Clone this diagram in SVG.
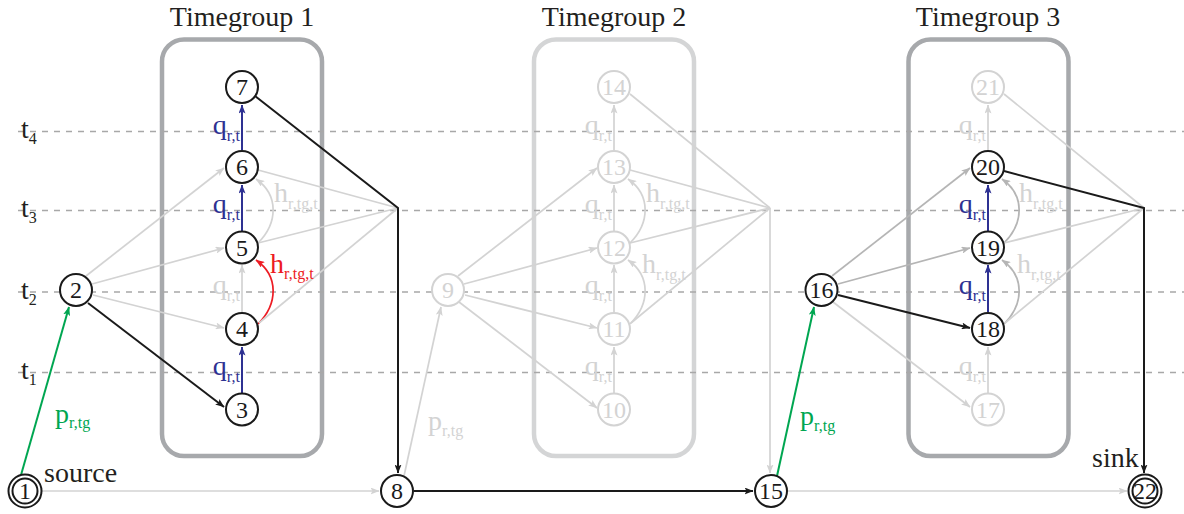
<svg xmlns="http://www.w3.org/2000/svg" width="1184" height="514" viewBox="0 0 1184 514">
<style>
text{font-family:"Liberation Serif","Times New Roman",serif;}
.title{font-size:28px;fill:#231f20;text-anchor:middle;}
.tl{font-size:28px;fill:#231f20;}
.dash{stroke:#a8a8a8;stroke-width:1.6;stroke-dasharray:6 6;fill:none;}
.box1{fill:none;stroke:#a7a9ac;stroke-width:4.5;}
.box2{fill:none;stroke:#d4d5d6;stroke-width:4.5;}
.n circle{fill:#fff;stroke:#1a1a1a;stroke-width:2;}
.n text{font-size:24px;fill:#1a1a1a;text-anchor:middle;}
.nl circle{fill:#fff;stroke:#d3d3d3;stroke-width:2;}
.nl text{font-size:24px;fill:#d3d3d3;text-anchor:middle;}
.e{fill:none;stroke-width:1.7;}
.k{stroke:#1a1a1a;stroke-width:2;marker-end:url(#ak);}
.kn{stroke:#1a1a1a;stroke-width:2;}
.l{stroke:#d3d3d3;marker-end:url(#al);}
.ln{stroke:#d3d3d3;}
.m{stroke:#b5b5b5;marker-end:url(#am);}
.g{stroke:#00a651;stroke-width:2;marker-end:url(#ag);}
.b{stroke:#2e3192;stroke-width:2;marker-end:url(#ab);}
.r{stroke:#ed1c24;marker-end:url(#ar);}
.lab{font-size:28px;}
.sub{font-size:16px;}
.cb{fill:#2e3192;}
.cl{fill:#d3d3d3;}
.cg{fill:#00a651;}
.cr{fill:#ed1c24;}
</style>
<defs>
<marker id="ak" markerWidth="9" markerHeight="7" refX="8.5" refY="3.5" orient="auto" markerUnits="userSpaceOnUse"><path d="M0,0 L9,3.5 L0,7 L2,3.5 Z" fill="#1a1a1a"/></marker>
<marker id="al" markerWidth="9" markerHeight="7" refX="8.5" refY="3.5" orient="auto" markerUnits="userSpaceOnUse"><path d="M0,0 L9,3.5 L0,7 L2,3.5 Z" fill="#d3d3d3"/></marker>
<marker id="am" markerWidth="9" markerHeight="7" refX="8.5" refY="3.5" orient="auto" markerUnits="userSpaceOnUse"><path d="M0,0 L9,3.5 L0,7 L2,3.5 Z" fill="#b5b5b5"/></marker>
<marker id="ag" markerWidth="9" markerHeight="7" refX="8.5" refY="3.5" orient="auto" markerUnits="userSpaceOnUse"><path d="M0,0 L9,3.5 L0,7 L2,3.5 Z" fill="#00a651"/></marker>
<marker id="ab" markerWidth="9" markerHeight="7" refX="8.5" refY="3.5" orient="auto" markerUnits="userSpaceOnUse"><path d="M0,0 L9,3.5 L0,7 L2,3.5 Z" fill="#2e3192"/></marker>
<marker id="ar" markerWidth="9" markerHeight="7" refX="8.5" refY="3.5" orient="auto" markerUnits="userSpaceOnUse"><path d="M0,0 L9,3.5 L0,7 L2,3.5 Z" fill="#ed1c24"/></marker>
</defs>
<rect width="1184" height="514" fill="#fff"/>

<g id="timegroups">
<rect class="box1" x="162" y="39.5" width="160" height="416.5" rx="22"/>
<rect class="box2" x="534" y="39.5" width="160" height="416.5" rx="22"/>
<rect class="box1" x="908.5" y="39.5" width="160" height="416.5" rx="22"/>
<text class="title" x="242" y="26">Timegroup 1</text>
<text class="title" x="614" y="26">Timegroup 2</text>
<text class="title" x="988" y="26">Timegroup 3</text>
</g>

<g id="timelines">
<line class="dash" x1="18" y1="131.5" x2="1184" y2="131.5"/>
<line class="dash" x1="18" y1="210.5" x2="1184" y2="210.5"/>
<line class="dash" x1="18" y1="292" x2="1184" y2="292"/>
<line class="dash" x1="18" y1="372.5" x2="1184" y2="372.5"/>
<text class="tl" x="21" y="138">t<tspan class="sub" dy="6">4</tspan></text>
<text class="tl" x="21" y="217">t<tspan class="sub" dy="6">3</tspan></text>
<text class="tl" x="21" y="298.5">t<tspan class="sub" dy="6">2</tspan></text>
<text class="tl" x="21" y="379">t<tspan class="sub" dy="6">1</tspan></text>
</g>

<g id="connectors">
<path class="e l" d="M41,491 L379,491"/>
<path class="e k" d="M414,491 L753,491"/>
<path class="e l" d="M788,491 L1127,491"/>
<path class="e g" d="M21,475 L69,307"/>
<path class="e l" d="M404,476 L441,307"/>
<path class="e g" d="M777,476 L814,307"/>
<path class="e k" d="M88,303 L224,407"/>
<path class="e l" d="M93,295 L224,328"/>
<path class="e l" d="M92,284 L224,248"/>
<path class="e l" d="M86,276 L224,168"/>
<path class="e b" d="M242,393 L242,347"/>
<path class="e l" d="M242,312 L242,265"/>
<path class="e b" d="M242,231 L242,185"/>
<path class="e b" d="M242,150 L242,105"/>
<path class="e r" d="M258,324 C278,304 279,276 256,260"/>
<path class="e l" d="M258,243 C278,223 279,195 256,179"/>
<path class="e ln" d="M258,170 L398,208"/>
<path class="e ln" d="M258,243 L398,208"/>
<path class="e ln" d="M259,323 L398,208"/>
<path class="e k" d="M255,96 L398,208 L398,473"/>
<path class="e l" d="M459,302 L597,408"/>
<path class="e l" d="M465,295 L597,328"/>
<path class="e l" d="M464,284 L597,248"/>
<path class="e l" d="M458,276 L597,168"/>
<path class="e l" d="M614,393 L614,347"/>
<path class="e l" d="M614,312 L614,265"/>
<path class="e l" d="M614,231 L614,185"/>
<path class="e l" d="M614,150 L614,105"/>
<path class="e l" d="M630,324 C650,304 651,276 628,260"/>
<path class="e l" d="M630,243 C650,223 651,195 628,179"/>
<path class="e ln" d="M630,94 L770,208"/>
<path class="e ln" d="M630,170 L770,208"/>
<path class="e ln" d="M630,243 L770,208"/>
<path class="e ln" d="M631,323 L770,208"/>
<path class="e l" d="M770,208 L770,473"/>
<path class="e l" d="M833,302 L970,407"/>
<path class="e k" d="M838,295 L970,328"/>
<path class="e m" d="M838,284 L970,248"/>
<path class="e m" d="M832,276 L970,168"/>
<path class="e l" d="M988,393 L988,347"/>
<path class="e b" d="M988,312 L988,265"/>
<path class="e b" d="M988,231 L988,185"/>
<path class="e l" d="M988,150 L988,105"/>
<path class="e m" d="M1004,324 C1024,304 1025,276 1002,260"/>
<path class="e m" d="M1004,243 C1024,223 1025,195 1002,179"/>
<path class="e ln" d="M1004,94 L1144,208"/>
<path class="e ln" d="M1004,243 L1144,208"/>
<path class="e ln" d="M1005,323 L1144,208"/>
<path class="e k" d="M1004,171 L1144,208 L1144,473"/>
</g>

<g id="labels">
<text class="lab cg" x="55" y="423">p<tspan class="sub" dy="5">r,tg</tspan></text>
<text class="lab cl" x="428" y="430">p<tspan class="sub" dy="6">r,tg</tspan></text>
<text class="lab cg" x="800" y="425">p<tspan class="sub" dy="6">r,tg</tspan></text>
<text class="lab cb" x="240" y="133.5" text-anchor="end">q<tspan class="sub" dy="7">r,t</tspan></text>
<text class="lab cb" x="240" y="212.5" text-anchor="end">q<tspan class="sub" dy="7">r,t</tspan></text>
<text class="lab cl" x="240" y="294" text-anchor="end">q<tspan class="sub" dy="7">r,t</tspan></text>
<text class="lab cb" x="240" y="374.5" text-anchor="end">q<tspan class="sub" dy="7">r,t</tspan></text>
<text class="lab cl" x="612" y="133.5" text-anchor="end">q<tspan class="sub" dy="7">r,t</tspan></text>
<text class="lab cl" x="612" y="212.5" text-anchor="end">q<tspan class="sub" dy="7">r,t</tspan></text>
<text class="lab cl" x="612" y="294" text-anchor="end">q<tspan class="sub" dy="7">r,t</tspan></text>
<text class="lab cl" x="612" y="374.5" text-anchor="end">q<tspan class="sub" dy="7">r,t</tspan></text>
<text class="lab cl" x="986" y="133.5" text-anchor="end">q<tspan class="sub" dy="7">r,t</tspan></text>
<text class="lab cb" x="986" y="212.5" text-anchor="end">q<tspan class="sub" dy="7">r,t</tspan></text>
<text class="lab cb" x="986" y="294" text-anchor="end">q<tspan class="sub" dy="7">r,t</tspan></text>
<text class="lab cl" x="986" y="374.5" text-anchor="end">q<tspan class="sub" dy="7">r,t</tspan></text>
<text class="lab cl" x="274" y="202">h<tspan class="sub" dy="7">r,tg,t</tspan></text>
<text class="lab cr" x="270" y="273">h<tspan class="sub" dy="6">r,tg,t</tspan></text>
<text class="lab cl" x="646" y="202">h<tspan class="sub" dy="7">r,tg,t</tspan></text>
<text class="lab cl" x="642" y="273">h<tspan class="sub" dy="7">r,tg,t</tspan></text>
<text class="lab cl" x="1019" y="202">h<tspan class="sub" dy="7">r,tg,t</tspan></text>
<text class="lab cl" x="1017" y="273">h<tspan class="sub" dy="7">r,tg,t</tspan></text>
<text x="44" y="482" font-size="28" fill="#231f20">source</text>
<text x="1092" y="467" font-size="28" fill="#231f20">sink</text>
</g>

<g id="node1" class="n"><circle cx="25" cy="491" r="16.5"/><circle cx="25" cy="491" r="12.5" stroke-width="1.5"/><text x="25" y="499">1</text></g>
<g id="node2" class="n"><circle cx="76" cy="290" r="16"/><text x="76" y="298">2</text></g>
<g id="node3" class="n"><circle cx="242" cy="409.5" r="16"/><text x="242" y="417.5">3</text></g>
<g id="node4" class="n"><circle cx="242" cy="329" r="16"/><text x="242" y="337">4</text></g>
<g id="node5" class="n"><circle cx="242" cy="247.5" r="16"/><text x="242" y="255.5">5</text></g>
<g id="node6" class="n"><circle cx="242" cy="167" r="16"/><text x="242" y="175">6</text></g>
<g id="node7" class="n"><circle cx="242" cy="87" r="16"/><text x="242" y="95">7</text></g>
<g id="node8" class="n"><circle cx="397" cy="491" r="16"/><text x="397" y="499">8</text></g>
<g id="node9" class="nl"><circle cx="448" cy="290" r="16"/><text x="448" y="298">9</text></g>
<g id="node10" class="nl"><circle cx="614" cy="409.5" r="16"/><text x="614" y="417.5">10</text></g>
<g id="node11" class="nl"><circle cx="614" cy="329" r="16"/><text x="614" y="337">11</text></g>
<g id="node12" class="nl"><circle cx="614" cy="247.5" r="16"/><text x="614" y="255.5">12</text></g>
<g id="node13" class="nl"><circle cx="614" cy="167" r="16"/><text x="614" y="175">13</text></g>
<g id="node14" class="nl"><circle cx="614" cy="87" r="16"/><text x="614" y="95">14</text></g>
<g id="node15" class="n"><circle cx="771" cy="491" r="16"/><text x="771" y="499">15</text></g>
<g id="node16" class="n"><circle cx="821.5" cy="290" r="16"/><text x="821.5" y="298">16</text></g>
<g id="node17" class="nl"><circle cx="988" cy="409.5" r="16"/><text x="988" y="417.5">17</text></g>
<g id="node18" class="n"><circle cx="988" cy="329" r="16"/><text x="988" y="337">18</text></g>
<g id="node19" class="n"><circle cx="988" cy="247.5" r="16"/><text x="988" y="255.5">19</text></g>
<g id="node20" class="n"><circle cx="988" cy="167" r="16"/><text x="988" y="175">20</text></g>
<g id="node21" class="nl"><circle cx="988" cy="87" r="16"/><text x="988" y="95">21</text></g>
<g id="node22" class="n"><circle cx="1145" cy="491" r="16.5"/><circle cx="1145" cy="491" r="12.5" stroke-width="1.5"/><text x="1145" y="499">22</text></g>
</svg>
